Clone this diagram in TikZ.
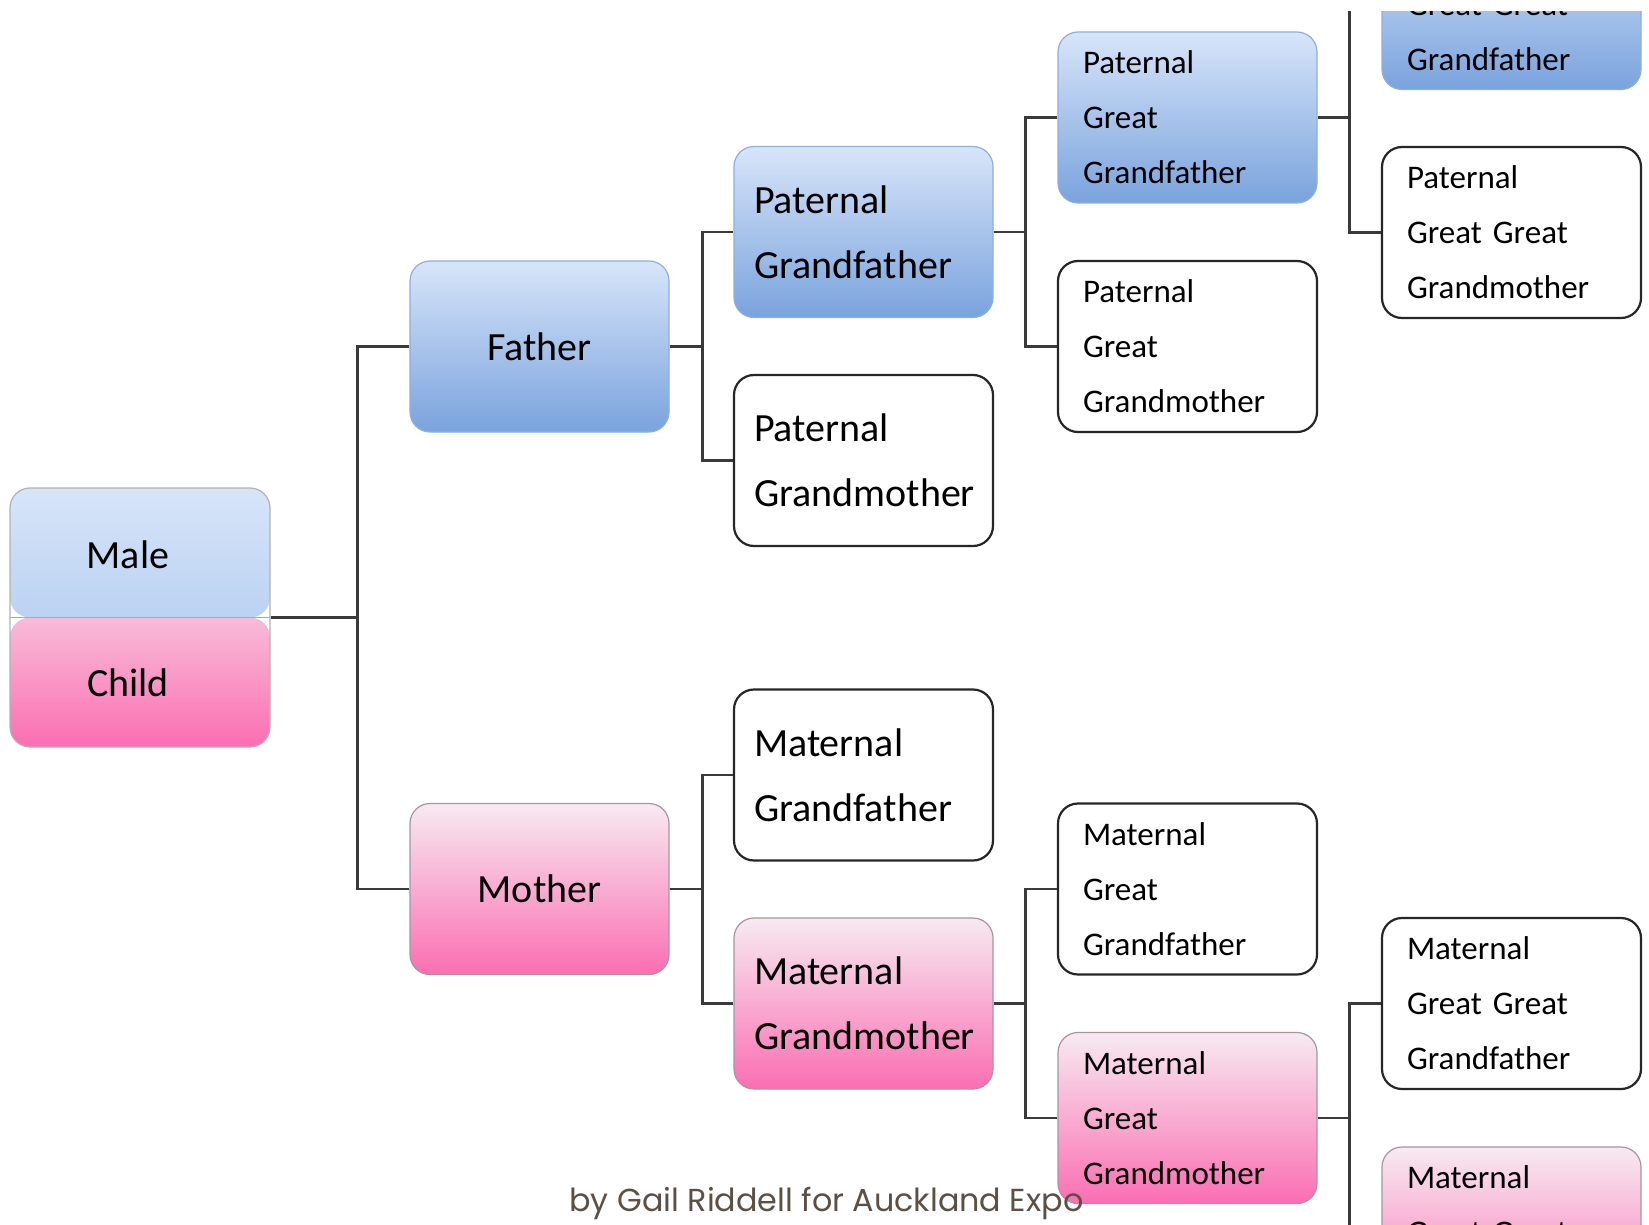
\documentclass[tikz,border=0pt]{standalone}
\usepackage{fontspec}
\setmainfont{Carlito}
\newfontfamily\creditfont{Poppins}
\usetikzlibrary{positioning}
\definecolor{bluetop}{HTML}{D7E5F9}
\definecolor{bluebot}{HTML}{7AA3DD}
\definecolor{blueedge}{HTML}{8FAEDC}
\definecolor{pinktop}{HTML}{F7EAF1}
\definecolor{pinkbot}{HTML}{FB6EB2}
\definecolor{pinkedge}{HTML}{A8959F}
\definecolor{childtop}{HTML}{F8BCD8}
\definecolor{maleb}{HTML}{9FBFEA}
\definecolor{linkgray}{HTML}{3A3A3A}
\definecolor{credit}{HTML}{5B5046}

\tikzset{
  member/.style={rectangle, rounded corners=10pt, minimum width=129.5pt, minimum height=85.5pt,
    inner ysep=2pt, line width=1.1pt, draw=black!85},
  gen1/.style={member, align=center, font=\fontsize{20}{24}\selectfont},
  gen2/.style={member, inner xsep=10pt, text width=109.5pt, align=left, font=\fontsize{20}{32.5}\selectfont},
  gen3/.style={member, inner xsep=12.5pt, text width=104.5pt, align=left, font=\fontsize{16.5}{27.5}\selectfont},
  maleside/.style={top color=bluetop, bottom color=bluebot, draw=blueedge, line width=0.6pt},
  femaleside/.style={top color=pinktop, bottom color=pinkbot, draw=pinkedge, line width=0.6pt},
  link/.style={draw=linkgray, line width=1.25pt},
}

\begin{document}
\begin{tikzpicture}[x=0.5pt, y=-0.5pt]
  \useasboundingbox (0,0) rectangle (1649,1225);
  \begin{scope}
    \clip (0,12) rectangle (1649,1225);
    % the child, half blue half pink
    \node[rectangle, rounded corners=10pt, minimum width=130pt, minimum height=129.5pt, draw=gray!60, line width=0.6pt,
      path picture={
        \shade[top color=bluetop, bottom color=maleb] (path picture bounding box.north west) rectangle (path picture bounding box.east);
        \shade[top color=childtop, bottom color=pinkbot] (path picture bounding box.west) rectangle (path picture bounding box.south east);
        \draw[blueedge, line width=0.6pt] (path picture bounding box.west) -- (path picture bounding box.east);
      }] (mc) at (140,617.5) {};
    \node[font=\fontsize{20}{24}\selectfont] (male) at (128,555) {Male};
    \node[font=\fontsize{20}{24}\selectfont] (child) at (128,683) {Child};

    % parents
    \node[gen1, maleside] (father) at (539.5,346.5) {Father};
    \node[gen1, femaleside] (mother) at (539.5,889) {Mother};

    % grandparents
    \node[gen2, maleside] (pgf) at (863.5,232) {Paternal\\Grandfather};
    \node[gen2] (pgm) at (863.5,460.5) {Paternal\\Grandmother};
    \node[gen2] (mgf) at (863.5,775) {Maternal\\Grandfather};
    \node[gen2, femaleside] (mgm) at (863.5,1003.5) {Maternal\\Grandmother};

    % great grandparents
    \node[gen3, maleside] (pggf) at (1187.5,117.5) {Paternal\\Great\\Grandfather};
    \node[gen3] (pggm) at (1187.5,346.5) {Paternal\\Great\\Grandmother};
    \node[gen3] (mggf) at (1187.5,889) {Maternal\\Great\\Grandfather};
    \node[gen3, femaleside] (mggm) at (1187.5,1118) {Maternal\\Great\\Grandmother};

    % great great grandparents
    \node[gen3, maleside] (pgggf) at (1511.5,4) {Paternal\\Great Great\\Grandfather};
    \node[gen3] (pgggm) at (1511.5,232.5) {Paternal\\Great Great\\Grandmother};
    \node[gen3] (mgggf) at (1511.5,1003.5) {Maternal\\Great Great\\Grandfather};
    \node[gen3, femaleside] (mgggm) at (1511.5,1232.5) {Maternal\\Great Great\\Grandmother};

    \draw[link] (mc.east) -- ++(87,0) |- (father.west);
    \draw[link] (mc.east) -- ++(87,0) |- (mother.west);
    \draw[link] (father.east) -- ++(33,0) |- (pgf.west);
    \draw[link] (father.east) -- ++(33,0) |- (pgm.west);
    \draw[link] (mother.east) -- ++(33,0) |- (mgf.west);
    \draw[link] (mother.east) -- ++(33,0) |- (mgm.west);
    \draw[link] (pgf.east) -- ++(32,0) |- (pggf.west);
    \draw[link] (pgf.east) -- ++(32,0) |- (pggm.west);
    \draw[link] (mgm.east) -- ++(32,0) |- (mggf.west);
    \draw[link] (mgm.east) -- ++(32,0) |- (mggm.west);
    \draw[link] (pggf.east) -- ++(32,0) |- (pgggf.west);
    \draw[link] (pggf.east) -- ++(32,0) |- (pgggm.west);
    \draw[link] (mggm.east) -- ++(32,0) |- (mgggf.west);
    \draw[link] (mggm.east) -- ++(32,0) |- (mgggm.west);
  \end{scope}

  \node[anchor=base west, inner sep=0pt, text=credit, font=\creditfont\fontsize{15.9}{19}\selectfont]
    (byline) at (569,1211) {by Gail Riddell for Auckland Expo};
\end{tikzpicture}
\end{document}
